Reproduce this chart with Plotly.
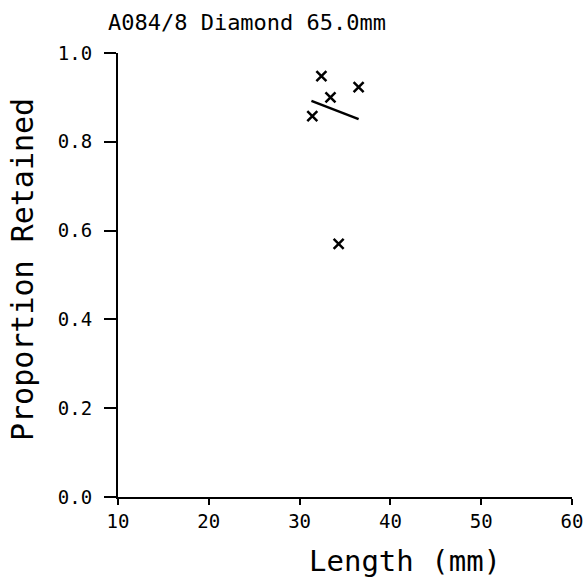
import plotly.graph_objects as go

# Measured samples
length_mm = [32.4, 33.4, 36.5, 31.4, 34.3]
proportion = [0.948, 0.900, 0.923, 0.858, 0.570]

# Fitted trend line endpoints
fit_length = [31.3, 36.5]
fit_proportion = [0.892, 0.851]

x_ticks = [10, 20, 30, 40, 50, 60]
y_ticks = [0.0, 0.2, 0.4, 0.6, 0.8, 1.0]
y_tick_text = ["0.0", "0.2", "0.4", "0.6", "0.8", "1.0"]

mono = "DejaVu Sans Mono"
W, H = 588, 578

fig = go.Figure()
fig.add_trace(go.Scatter(
    x=length_mm, y=proportion, mode="markers",
    marker=dict(symbol="x-thin", size=10, line=dict(color="black", width=2.5)),
    showlegend=False,
))
fig.add_trace(go.Scatter(
    x=fit_length, y=fit_proportion, mode="lines",
    line=dict(color="black", width=2.5), showlegend=False,
))

fig.update_layout(
    width=W, height=H,
    margin=dict(l=118, r=16, t=53, b=81, autoexpand=False),
    paper_bgcolor="white", plot_bgcolor="white",
    font=dict(family=mono, color="black"),
    title=dict(text="A084/8 Diamond 65.0mm", font=dict(family=mono, size=22, color="black"),
               xref="container", x=247 / W, xanchor="center",
               yref="container", y=1 - 22 / H, yanchor="middle"),
    xaxis=dict(
        range=[10, 60], tickvals=x_ticks, ticks="outside", ticklen=6, tickwidth=2,
        tickcolor="black", showline=True, linecolor="black", linewidth=2,
        showgrid=False, zeroline=False, tickfont=dict(family=mono, size=19),
        automargin=False,
    ),
    yaxis=dict(
        range=[0, 1], tickvals=y_ticks, ticktext=y_tick_text, ticks="outside",
        ticklen=12, tickwidth=2, tickcolor="black", showline=True, linecolor="black",
        linewidth=2, showgrid=False, zeroline=False, tickfont=dict(family=mono, size=19),
        ticklabelstandoff=8, automargin=False,
    ),
    annotations=[
        dict(text="Length (mm)", xref="paper", x=(405 - 118) / (W - 118 - 16), xanchor="center",
             yref="paper", y=-(561 - 497) / (497 - 53), yanchor="middle",
             showarrow=False, font=dict(family=mono, size=29, color="black")),
        dict(text="Proportion Retained", xref="paper", x=-(118 - 22) / (W - 118 - 16),
             xanchor="center", yref="paper", y=(497 - 270) / (497 - 53), yanchor="middle",
             textangle=-90, showarrow=False, font=dict(family=mono, size=30, color="black")),
    ],
)

fig.write_html("out.html")
